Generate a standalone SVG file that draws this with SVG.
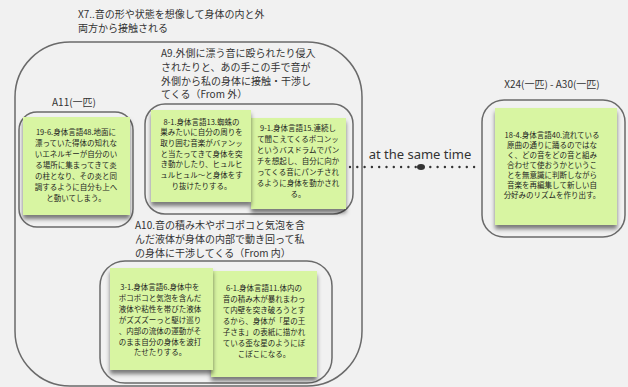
<svg xmlns="http://www.w3.org/2000/svg" width="628" height="387" viewBox="0 0 628 387">
<defs>
<style>
.bg{fill:#f1f1f1}
.frame{fill:none;stroke:#6a6a6a;stroke-width:1.5}
.sticky{fill:#d8f5a2}
.ttl{font-family:"Noto Sans CJK JP","Noto Sans",sans-serif;font-size:10px;fill:#333}
.st{font-family:"Noto Sans CJK JP","Noto Sans",sans-serif;font-size:7.5px;fill:#1e1e1e;text-anchor:middle}
.lbl{font-family:"Noto Sans","Noto Sans CJK JP",sans-serif;font-size:13px;fill:#333;text-anchor:middle}
.conn{fill:none;stroke:#333;stroke-width:2.4;stroke-linecap:round;stroke-dasharray:0 7.3}
</style>
<filter id="sh" x="-10%" y="-10%" width="120%" height="130%">
<feDropShadow dx="0" dy="4" stdDeviation="2.2" flood-color="#000" flood-opacity="0.5"/>
</filter>
</defs>
<rect class="bg" x="0" y="0" width="628" height="387"/>

<g id="X7">
<rect class="frame" x="15" y="42" width="347" height="344" rx="55"/>
<text class="ttl"><tspan x="78" y="17.5">X7..音の形や状態を想像して身体の内と外</tspan><tspan x="78" y="31.5">両方から接触される</tspan></text>
</g>

<g id="A11">
<text class="ttl" x="74" y="106" text-anchor="middle">A11(一匹)</text>
<rect class="frame" x="19" y="112" width="114" height="115" rx="18"/>
</g>
<g id="s19-6">
<rect class="sticky" x="23" y="117" width="107" height="98" filter="url(#sh)"/>
<text class="st" font-size="7.8"><tspan x="76" y="135">19-6.身体言語48.地面に</tspan><tspan x="76" y="146">漂っていた得体の知れな</tspan><tspan x="76" y="157">いエネルギーが自分のい</tspan><tspan x="76" y="168">る場所に集まってきて炎</tspan><tspan x="76" y="179">の柱となり、その炎と同</tspan><tspan x="76" y="190">調するように自分も上へ</tspan><tspan x="76" y="201">と動いてしまう。</tspan></text>
</g>

<g id="A9">
<text class="ttl"><tspan x="161" y="57">A9.外側に漂う音に殴られたり侵入</tspan><tspan x="161" y="71">されたりと、あの手この手で音が</tspan><tspan x="161" y="84.5">外側から私の身体に接触・干渉し</tspan><tspan x="161" y="98">てくる（From 外）</tspan></text>
<rect class="frame" x="145" y="104" width="208" height="110" rx="20"/>
</g>
<g id="s9-1">
<rect class="sticky" x="251" y="118" width="95" height="91" filter="url(#sh)"/>
<text class="st"><tspan x="298" y="131.3">9-1.身体言語15.連続し</tspan><tspan x="298" y="142.3">て聞こえてくるボコンッ</tspan><tspan x="298" y="153.2">というバスドラムでパン</tspan><tspan x="298" y="164.2">チを想起し、自分に向か</tspan><tspan x="298" y="175.1">ってくる音にパンチされ</tspan><tspan x="298" y="186.1">るように身体を動かされ</tspan><tspan x="298" y="197">る。</tspan></text>
</g>
<g id="s8-1">
<rect class="sticky" x="151" y="110" width="100" height="92" filter="url(#sh)"/>
<text class="st"><tspan x="201.5" y="124.7">8-1.身体言語13.蜘蛛の</tspan><tspan x="201.5" y="135.4">巣みたいに自分の周りを</tspan><tspan x="201.5" y="146">取り囲む音楽がバァンッ</tspan><tspan x="201.5" y="156.7">と当たってきて身体を突</tspan><tspan x="201.5" y="167.4">き動かしたり、ヒュルヒ</tspan><tspan x="201.5" y="178">ュルヒュル〜と身体をす</tspan><tspan x="201.5" y="188.7">り抜けたりする。</tspan></text>
</g>

<g id="A10">
<text class="ttl" font-size="9.6"><tspan x="135" y="229">A10.音の積み木やポコポコと気泡を含</tspan><tspan x="135" y="243">んだ液体が身体の内部で動き回って私</tspan><tspan x="135" y="256.5">の身体に干渉してくる（From 内）</tspan></text>
<rect class="frame" x="100" y="261" width="232" height="122" rx="25"/>
</g>
<g id="s6-1">
<rect class="sticky" x="211" y="271" width="106" height="106" filter="url(#sh)"/>
<text class="st"><tspan x="264" y="291">6-1.身体言語11.体内の</tspan><tspan x="264" y="302">音の積み木が暴れまわっ</tspan><tspan x="264" y="313">て内壁を突き破ろうとす</tspan><tspan x="264" y="324">るから、身体が「星の王</tspan><tspan x="264" y="335">子さま」の表紙に描かれ</tspan><tspan x="264" y="346">ている歪な星のようにぼ</tspan><tspan x="264" y="357">こぼこになる。</tspan></text>
</g>
<g id="s3-1">
<rect class="sticky" x="110" y="268" width="103" height="102" filter="url(#sh)"/>
<text class="st"><tspan x="160" y="289.7">3-1.身体言語6.身体中を</tspan><tspan x="160" y="300.7">ポコポコと気泡を含んだ</tspan><tspan x="160" y="311.6">液体や粘性を帯びた液体</tspan><tspan x="160" y="322.6">がズズズーっと駆け巡り</tspan><tspan x="160" y="333.5">、内部の流体の運動がそ</tspan><tspan x="160" y="344.5">のまま自分の身体を波打</tspan><tspan x="160" y="355.4">たせたりする。</tspan></text>
</g>

<g id="X24">
<text class="ttl" x="552" y="88" font-size="13" text-anchor="middle">X24(一匹) - A30(一匹)</text>
<rect class="frame" x="482" y="100" width="143" height="137" rx="22"/>
</g>
<g id="s18-4">
<rect class="sticky" x="495" y="108" width="122" height="117" filter="url(#sh)"/>
<text class="st" font-size="7"><tspan x="552" y="137.7">18-4.身体言語40.流れている</tspan><tspan x="552" y="147.8">原曲の通りに踊るのではな</tspan><tspan x="552" y="157.9">く、どの音をどの音と組み</tspan><tspan x="552" y="168">合わせて使おうかというこ</tspan><tspan x="552" y="178.1">とを無意識に判断しながら</tspan><tspan x="552" y="188.2">音楽を再編集して新しい自</tspan><tspan x="552" y="198.3">分好みのリズムを作り出す。</tspan></text>
</g>

<g id="connectors">
<line class="conn" x1="350" y1="167" x2="478" y2="167"/>
<ellipse cx="421" cy="167" rx="4" ry="3" fill="#333"/>
<text class="lbl" x="420" y="159">at the same time</text>
</g>
</svg>
